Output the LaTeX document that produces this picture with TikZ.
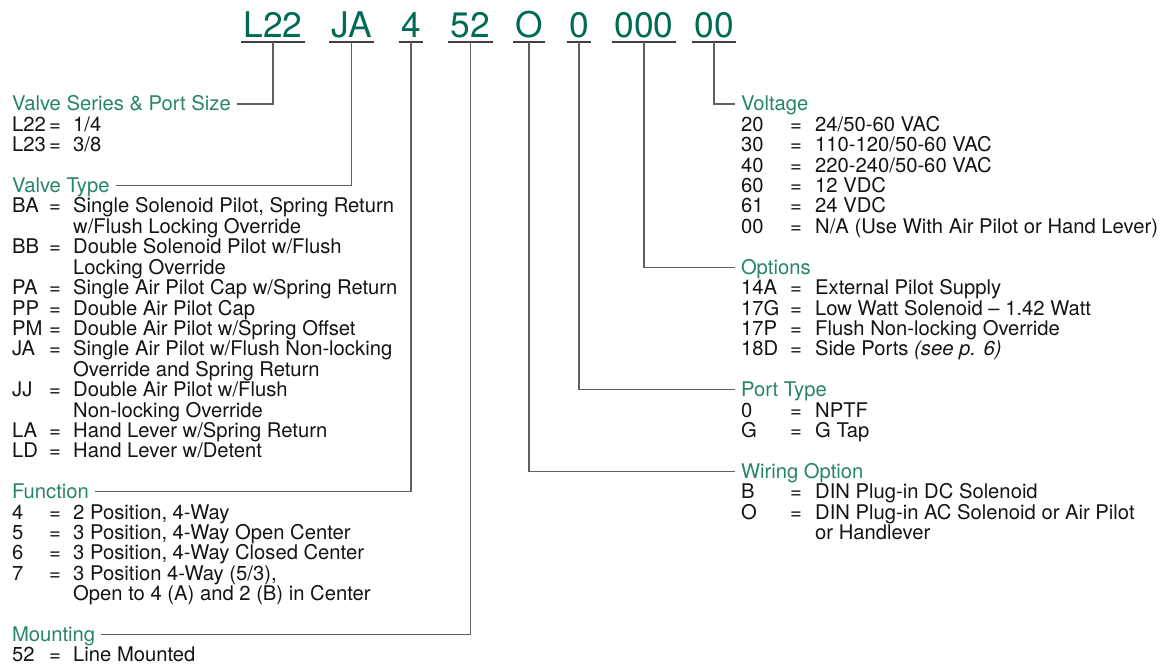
\documentclass[tikz,border=0pt]{standalone}
\usepackage{fontspec}
\setmainfont{TeX Gyre Heros}
\usetikzlibrary{calc}
\definecolor{codegreen}{RGB}{0,107,84}
\definecolor{headgreen}{RGB}{38,132,106}
\definecolor{wiregray}{RGB}{95,95,95}
% fixed row pitch for the lists
\newcommand{\listfont}{\fontsize{20.3}{20.4}\selectfont
  \setbox\strutbox\hbox{\vrule height 15.2bp depth 5.2bp width 0pt}}

\begin{document}
\begin{tikzpicture}[x=1bp, y=-1bp]

  % ---------- Styling ----------
  \tikzset{
    code/.style={anchor=base, inner xsep=2.5bp, inner ysep=4bp, outer sep=0pt,
      text depth=0pt, text=codegreen, font=\fontsize{35.5}{36}\selectfont},
    uline/.style={draw=black!75, line width=2.2bp},
    link/.style={draw=wiregray, line width=1.1bp},
    head/.style={anchor=base west, inner xsep=6bp, inner ysep=0pt, outer sep=0pt,
      text height=14bp, text depth=0pt, text=headgreen, font=\fontsize{20.3}{20.4}\selectfont},
    list/.style={anchor=base west, inner sep=0pt, text=black!92, font=\listfont}
  }

  \useasboundingbox (0,0) rectangle (1173,664);

  % ---------- Part number ----------
  \node[code] (cSeries) at (273,38) {L22};
  \node[code] (cType)   at (351.5,38) {JA};
  \node[code] (cFunc)   at (411,38) {4};
  \node[code] (cMount)  at (470.5,38) {52};
  \node[code] (cWiring) at (529,38) {O};
  \node[code] (cPort)   at (579,38) {0};
  \node[code] (cOpt)    at (644,38) {000};
  \node[code] (cVolt)   at (714,38) {00};

  \foreach \n in {cSeries,cType,cFunc,cMount,cWiring,cPort,cOpt,cVolt}
    \draw[uline] (\n.south west) -- (\n.south east);

  % ---------- Left column ----------
  \node[head] (tSeries) at (6,111) {Valve Series \& Port Size};
  \node[list] (lSeries) at (12,131.4) {\begin{tabular}[t]{@{}p{37bp}@{}p{24bp}@{}l@{}}
    L22 & = & 1/4\\
    L23 & = & 3/8
  \end{tabular}};

  \node[head] (tType) at (6,192.6) {Valve Type};
  \node[list] (lType) at (12,213) {\begin{tabular}[t]{@{}p{37bp}@{}p{24bp}@{}l@{}}
    BA & = & Single Solenoid Pilot, Spring Return\\
       &   & w/Flush Locking Override\\
    BB & = & Double Solenoid Pilot w/Flush\\
       &   & Locking Override\\
    PA & = & Single Air Pilot Cap w/Spring Return\\
    PP & = & Double Air Pilot Cap\\
    PM & = & Double Air Pilot w/Spring Offset\\
    JA & = & Single Air Pilot w/Flush Non-locking\\
       &   & Override and Spring Return\\
    JJ & = & Double Air Pilot w/Flush\\
       &   & Non-locking Override\\
    LA & = & Hand Lever w/Spring Return\\
    LD & = & Hand Lever w/Detent
  \end{tabular}};

  \node[head] (tFunc) at (6,498.6) {Function};
  \node[list] (lFunc) at (12,519) {\begin{tabular}[t]{@{}p{37bp}@{}p{24bp}@{}l@{}}
    4 & = & 2 Position, 4-Way\\
    5 & = & 3 Position, 4-Way Open Center\\
    6 & = & 3 Position, 4-Way Closed Center\\
    7 & = & 3 Position 4-Way (5/3),\\
      &   & Open to 4 (A) and 2 (B) in Center
  \end{tabular}};

  \node[head] (tMount) at (6,641.4) {Mounting};
  \node[list] (lMount) at (12,661.8) {\begin{tabular}[t]{@{}p{37bp}@{}p{24bp}@{}l@{}}
    52 & = & Line Mounted
  \end{tabular}};

  % ---------- Right column ----------
  \node[head] (tVolt) at (735,111) {Voltage};
  \node[list] (lVolt) at (741,131.4) {\begin{tabular}[t]{@{}p{49bp}@{}p{25bp}@{}l@{}}
    20 & = & 24/50-60 VAC\\
    30 & = & 110-120/50-60 VAC\\
    40 & = & 220-240/50-60 VAC\\
    60 & = & 12 VDC\\
    61 & = & 24 VDC\\
    00 & = & N/A (Use With Air Pilot or Hand Lever)
  \end{tabular}};

  \node[head] (tOpt) at (735,274.2) {Options};
  \node[list] (lOpt) at (741,294.6) {\begin{tabular}[t]{@{}p{49bp}@{}p{25bp}@{}l@{}}
    14A & = & External Pilot Supply\\
    17G & = & Low Watt Solenoid -- 1.42 Watt\\
    17P & = & Flush Non-locking Override\\
    18D & = & Side Ports \textit{(see p. 6)}
  \end{tabular}};

  \node[head] (tPort) at (735,396.6) {Port Type};
  \node[list] (lPort) at (741,417) {\begin{tabular}[t]{@{}p{49bp}@{}p{25bp}@{}l@{}}
    0 & = & NPTF\\
    G & = & G Tap
  \end{tabular}};

  \node[head] (tWiring) at (735,478.2) {Wiring Option};
  \node[list] (lWiring) at (741,498.6) {\begin{tabular}[t]{@{}p{49bp}@{}p{25bp}@{}l@{}}
    B & = & DIN Plug-in DC Solenoid\\
    O & = & DIN Plug-in AC Solenoid or Air Pilot\\
      &   & or Handlever
  \end{tabular}};

  % ---------- Leader lines ----------
  \draw[link] (cSeries.south) |- (tSeries.east);
  \draw[link] (cType.south)   |- (tType.east);
  \draw[link] (cFunc.south)   |- (tFunc.east);
  \draw[link] (cMount.south)  |- (tMount.east);
  \draw[link] (cWiring.south) |- (tWiring.west);
  \draw[link] (cPort.south)   |- (tPort.west);
  \draw[link] (cOpt.south)    |- (tOpt.west);
  \draw[link] (cVolt.south)   |- (tVolt.west);

\end{tikzpicture}
\end{document}
